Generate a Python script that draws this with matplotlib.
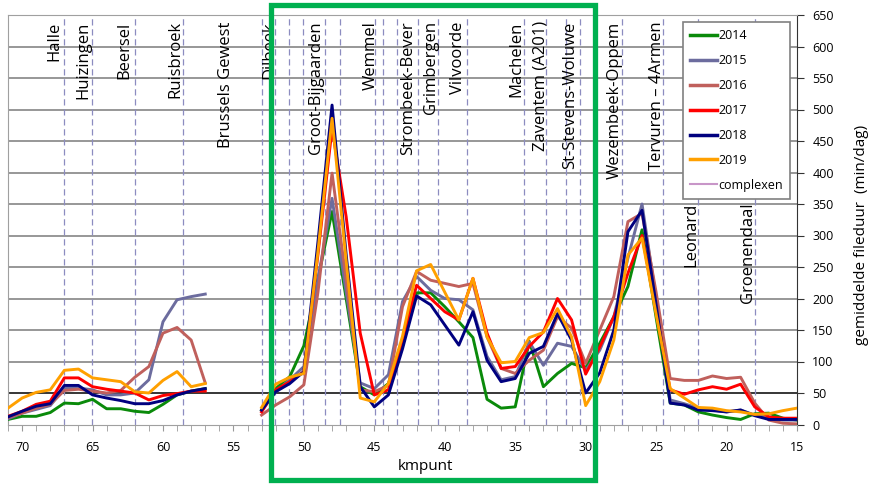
import numpy as np
import matplotlib
matplotlib.use('Agg')
import matplotlib.pyplot as plt
from matplotlib.patches import Rectangle

plt.rcParams['font.family'] = ['Open Sans', 'DejaVu Sans']

# kilometre points (reading direction right to left), no data at 56-54
kmpunt = [71, 70, 69, 68, 67, 66, 65, 64, 63, 62, 61, 60, 59, 58, 57,
          56, 55, 54,
          53, 52, 51, 50, 49, 48, 47, 46, 45, 44, 43, 42, 41, 40, 39, 38, 37, 36,
          35, 34, 33, 32, 31, 30, 29, 28, 27, 26, 25, 24, 23, 22, 21, 20, 19, 18,
          17, 16, 15]

gap = [None, None, None]

v2014 = [8, 13, 13, 19, 34, 33, 40, 25, 25, 21, 19, 32, 47, 53, 57] + gap + \
        [23, 57, 76, 125, 231, 338, 200, 60, 47, 65, 125, 209, 209, 187, 163, 138, 40, 26,
         28, 132, 60, 81, 97, 90, 129, 171, 219, 309, 170, 34, 31, 20, 15, 11, 8, 17,
         18, 10, 7]
v2015 = [9, 18, 24, 30, 58, 58, 55, 47, 47, 50, 71, 163, 198, 203, 207] + gap + \
        [22, 52, 71, 92, 230, 359, 210, 66, 57, 79, 195, 235, 213, 200, 198, 182, 108, 71,
         76, 131, 94, 129, 124, 86, 118, 171, 264, 350, 200, 39, 33, 26, 23, 20, 23, 15,
         12, 7, 7]
v2016 = [11, 18, 26, 32, 54, 56, 53, 50, 54, 75, 92, 145, 154, 134, 66] + gap + \
        [15, 31, 44, 63, 210, 399, 230, 55, 52, 62, 187, 243, 229, 224, 219, 224, 139, 89,
         81, 102, 118, 171, 153, 97, 150, 203, 322, 335, 210, 73, 70, 70, 77, 73, 75, 34,
         7, 2, 1]
v2017 = [13, 21, 32, 37, 74, 74, 60, 56, 53, 50, 39, 46, 49, 53, 53] + gap + \
        [20, 55, 68, 84, 270, 470, 330, 145, 47, 55, 135, 221, 200, 179, 166, 232, 145, 89,
         92, 124, 147, 200, 166, 80, 123, 171, 240, 300, 180, 55, 48, 55, 60, 56, 64, 28,
         12, 10, 10]
v2018 = [12, 21, 29, 33, 62, 62, 47, 42, 38, 33, 33, 38, 47, 53, 57] + gap + \
        [23, 52, 65, 84, 290, 507, 270, 60, 28, 47, 120, 204, 190, 158, 126, 179, 102, 68,
         73, 113, 124, 176, 134, 50, 82, 150, 306, 340, 190, 34, 31, 23, 22, 20, 23, 14,
         8, 8, 8]
v2019 = [26, 42, 51, 55, 86, 88, 74, 71, 68, 52, 50, 70, 84, 60, 65] + gap + \
        [27, 64, 75, 81, 275, 486, 260, 42, 36, 65, 140, 244, 254, 210, 166, 232, 139, 98,
         100, 138, 146, 184, 139, 30, 68, 134, 269, 296, 175, 57, 42, 27, 26, 22, 20, 16,
         17, 22, 26]

years = ['2014', '2015', '2016', '2017', '2018', '2019']
series = [v2014, v2015, v2016, v2017, v2018, v2019]
colors = ['#0a8a0a', '#6c6c9e', '#c0605c', '#ff0000', '#00007f', '#ffa000']

# locations along the ring: label (right edge in km), top of text, dashed lines
places = ['Halle', 'Huizingen', 'Beersel', 'Ruisbroek', 'Brussels Gewest', 'Dilbeek',
          'Groot-Bijgaarden', 'Wemmel', 'Strombeek-Bever', 'Grimbergen', 'Vilvoorde',
          'Machelen', 'Zaventem (A201)', 'St-Stevens-Woluwe', 'Wezembeek-Oppem',
          'Tervuren \u2013 4Armen', 'Leonard', 'Groenendaal']
place_km = [67.13, 65.06, 62.14, 58.58, 54.95, 51.89, 48.54, 44.7, 42.06, 40.42, 38.5,
            34.37, 32.66, 30.52, 27.39, 24.4, 21.91, 17.92]
place_top = [640] * 16 + [352, 352]

dash_km = [67.0, 65.06, 62.0, 58.6, 53.0, 52.03, 51.03, 50.03, 48.47, 47.47, 44.97,
           44.4, 43.4, 41.9, 40.5, 38.4, 34.4, 32.8, 31.4, 30.4, 27.4, 24.5, 22.0, 18.0]

grid_vals = list(range(50, 651, 50))
dark_grid = [50]

fig = plt.figure(figsize=(8.69, 4.88), dpi=100)
ax = fig.add_axes([8 / 869, 1 - 424.5 / 488, 789 / 869, 409.5 / 488])

ax.set_xlim(71, 15)
ax.set_ylim(0, 650)

# horizontal grid
for g in grid_vals:
    ax.axhline(g, color='black' if g in dark_grid else '#7a7a7a', lw=1.1, zorder=1)

# dashed location lines
for k in dash_km:
    ax.axvline(k, color='#8c8cc0', lw=0.9, ls=(0, (5, 3)), zorder=1)

# data
x = np.array(kmpunt, dtype=float)
for year, vals, c in zip(years, series, colors):
    y = np.array([np.nan if v is None else v for v in vals], dtype=float)
    ax.plot(x, y, color=c, lw=2.1, label=year, zorder=3)
ax.plot([], [], color='#c896c8', lw=1.5, label='complexen')

# location names
for name, k, top in zip(places, place_km, place_top):
    ax.text(k, top, name, rotation=90, ha='right', va='top', fontsize=12, zorder=4)

# axes styling
ax.set_xticks(range(70, 14, -5))
ax.set_xticks(range(71, 14, -1), minor=True)
ax.tick_params(axis='x', which='both', length=4, color='#999999', labelsize=9, pad=8)
ax.set_yticks(range(0, 651, 50))
ax.yaxis.tick_right()
ax.yaxis.set_label_position('right')
ax.tick_params(axis='y', length=5, direction='out', labelsize=9, pad=6, color='#333333')
for side in ['left', 'top', 'bottom']:
    ax.spines[side].set_color('#a0a0a0')
ax.spines['right'].set_color('#333333')

ax.set_xlabel('kmpunt', fontsize=11)
ax.xaxis.set_label_coords(0.529, -0.085)
ax.set_ylabel('gemiddelde fileduur  (min/dag)', fontsize=11, rotation=90,
              va='center', ha='center')
ax.yaxis.set_label_coords(1.082, 0.463)

leg = ax.legend(loc='upper left', bbox_to_anchor=(0.8555, 0.983), borderaxespad=0,
                fontsize=9, fancybox=False, framealpha=1, edgecolor='#808080',
                handlelength=2.1, handletextpad=0.1, labelspacing=0.95, borderpad=0.6)
leg.get_frame().set_linewidth(1.2)
leg.set_zorder(5)
for h in leg.get_lines()[:-1]:
    h.set_linewidth(2.5)

# green highlight box
fig.add_artist(Rectangle((270.5 / 869, 1 - 480 / 488), 324 / 869, 475 / 488,
                         transform=fig.transFigure, fill=False, edgecolor='#00b050',
                         lw=3.8, zorder=10))

fig.savefig('out.png', dpi=100)
